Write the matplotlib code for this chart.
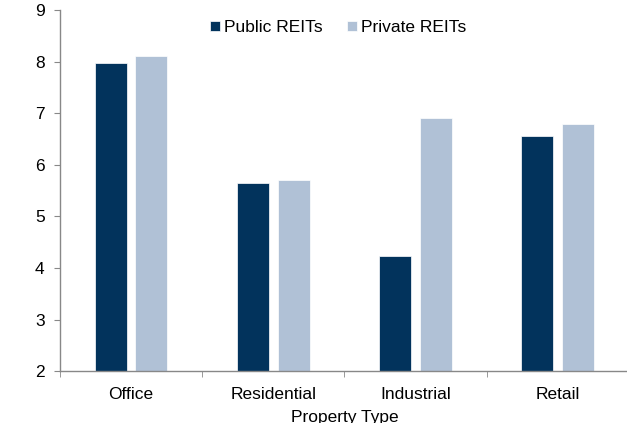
import matplotlib
matplotlib.use("Agg")
import matplotlib.pyplot as plt
import numpy as np

categories = ["Office", "Residential", "Industrial", "Retail"]
public_reits = [7.97, 5.64, 4.23, 6.55]
private_reits = [8.10, 5.71, 6.91, 6.80]
series_names = ["Public REITs", "Private REITs"]
colors = ["#02335C", "#B0C1D6"]

plt.rcParams['font.family'] = ['Liberation Sans', 'DejaVu Sans']

W, H = 627, 423
fig = plt.figure(figsize=(W/100, H/100), dpi=100)
ax = fig.add_axes([60/W, (H-371.3)/H, (628.8-60)/W, (371.3-10)/H])

x = np.arange(len(categories))
bw = 0.225
off = 0.143
ax.bar(x - off, public_reits, bw, color=colors[0], label=series_names[0],
       edgecolor="white", linewidth=0.5)
ax.bar(x + off, private_reits, bw, color=colors[1], label=series_names[1],
       edgecolor="white", linewidth=0.5)

ax.set_xlim(-0.5, len(categories) - 0.5)
ax.set_ylim(2, 9)
ax.set_yticks(range(2, 10))
ax.set_xticks(x)
ax.set_xticklabels(categories)
ax.set_xticks(np.arange(-0.5, len(categories)), minor=True)
ax.tick_params(axis='x', which='major', length=0, pad=11, labelsize=12.5)
ax.tick_params(axis='x', which='minor', length=4, color="#888888", direction='out')
ax.tick_params(axis='y', length=4, color="#888888", labelsize=12.5, pad=7)

for s in ["top", "right"]:
    ax.spines[s].set_visible(False)
for s in ["left", "bottom"]:
    ax.spines[s].set_color("#888888")
    ax.spines[s].set_linewidth(1.0)

ax.set_xlabel("Property Type", fontsize=12.5, labelpad=6)

leg = ax.legend(loc="upper center", bbox_to_anchor=(0.489, 1.015), ncol=2, frameon=False,
                fontsize=12.5, handlelength=0.55, handleheight=0.55, handletextpad=0.25,
                columnspacing=1.4)

fig.savefig("out.png", dpi=100)
